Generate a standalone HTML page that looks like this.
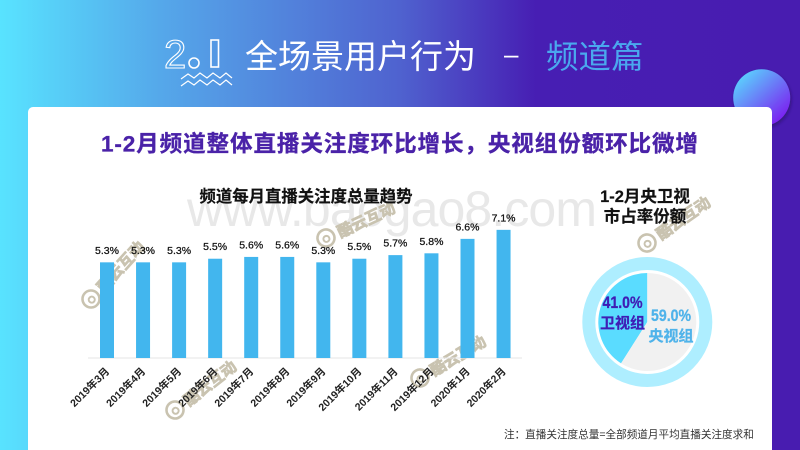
<!DOCTYPE html>
<html lang="zh">
<head>
<meta charset="utf-8">
<title>全场景用户行为 - 频道篇</title>
<style>
html,body{margin:0;padding:0;width:800px;height:450px;overflow:hidden}
svg{display:block}
text{font-family:"Liberation Sans","Noto Sans CJK SC",sans-serif}
</style>
</head>
<body>
<svg id="slide" xmlns="http://www.w3.org/2000/svg" width="800" height="450" viewBox="0 0 800 450">
<defs>
<linearGradient id="bg" x1="0" y1="0" x2="1" y2="0">
<stop offset="0" stop-color="#58e3ff"/>
<stop offset="0.2" stop-color="#55a8ea"/>
<stop offset="0.5" stop-color="#4f62cf"/>
<stop offset="0.67" stop-color="#471eb3"/>
<stop offset="1" stop-color="#481cb0"/>
</linearGradient>
<linearGradient id="ball" x1="0.15" y1="0.15" x2="0.85" y2="0.9">
<stop offset="0" stop-color="#5cc9fd"/>
<stop offset="1" stop-color="#7b1ff0"/>
</linearGradient>
<filter id="soft" x="-30%" y="-30%" width="160%" height="160%">
<feDropShadow dx="1" dy="2" stdDeviation="1.5" flood-color="#1a0a50" flood-opacity="0.55"/>
</filter>
</defs>

<rect width="800" height="450" fill="url(#bg)"/>
<circle cx="761.7" cy="97.7" r="28.5" fill="url(#ball)" filter="url(#soft)"/>

<g fill="none" stroke="#fff">
<text x="164" y="68" font-size="40" stroke-width="1.1" style="font-family:'Liberation Sans',sans-serif">2</text>
<circle cx="194" cy="63" r="5" stroke-width="1.6"/>
<rect x="211" y="40" width="7.5" height="27" stroke-width="1.6"/>
<polyline stroke-width="1.2" points="181,79 188,74 194,78 200,73 207,78 213,73 220,78 226,73 232,78"/>
<polyline stroke-width="1.2" points="181,86 188,81 194,85 200,80 207,85 213,80 220,85 226,80 232,85"/>
</g>

<text x="245" y="68" font-size="33" fill="#fff" style="font-family:'Noto Sans CJK SC',sans-serif;font-weight:400">全场景用户行为</text>
<text x="504" y="63" font-size="26" fill="#fff" style="font-family:'Liberation Sans',sans-serif">–</text>
<text x="546" y="68" font-size="32.5" fill="#4aa8ee" style="font-family:'Noto Sans CJK SC',sans-serif;font-weight:400">频道篇</text>

<rect x="28" y="107" width="744" height="350" rx="5" fill="#fff"/>

<text x="101" y="151.5" font-size="22.6" font-weight="700" fill="#4a22a8" stroke="#4a22a8" stroke-width="0.3" textLength="597" lengthAdjust="spacing">1-2月频道整体直播关注度环比增长，央视组份额环比微增</text>

<text x="187" y="226" font-size="50" fill="#e8e8e8" textLength="410" lengthAdjust="spacing">www.baogao8.com</text>

<g id="marks"></g>

<text x="306" y="202" font-size="16.4" font-weight="700" fill="#111" stroke="#111" stroke-width="0.2" text-anchor="middle">频道每月直播关注度总量趋势</text>
<g id="bar-chart"></g>

<text x="645" y="202" font-size="16.5" font-weight="700" fill="#111" stroke="#111" stroke-width="0.2" text-anchor="middle">1-2月央卫视</text>
<text x="645" y="222" font-size="16.5" font-weight="700" fill="#111" stroke="#111" stroke-width="0.2" text-anchor="middle">市占率份额</text>
<g id="share-chart"></g>

<text x="504" y="438" font-size="10.6" fill="#333">注：直播关注度总量=全部频道月平均直播关注度求和</text>
</svg>

<script>
const months = ["2019年3月","2019年4月","2019年5月","2019年6月","2019年7月","2019年8月","2019年9月","2019年10月","2019年11月","2019年12月","2020年1月","2020年2月"];
const monthlyShare = [5.3,5.3,5.3,5.5,5.6,5.6,5.3,5.5,5.7,5.8,6.6,7.1];
const shareLabels = ["卫视组","央视组"];
const shareValues = [41.0,59.0];

const NS = "http://www.w3.org/2000/svg";
function make(tag, attrs, parent, txt){
  const el = document.createElementNS(NS, tag);
  for (const k in attrs) el.setAttribute(k, attrs[k]);
  if (txt !== undefined) el.textContent = txt;
  parent.appendChild(el);
  return el;
}

/* bar chart axes */
const baseY = 358, unitPx = 18.05, firstX = 107, stepX = 36.05, barW = 14;
const xScale = i => firstX + i * stepX;
const yScale = v => baseY - v * unitPx;
const chart = document.getElementById("bar-chart");

const axis = make("line", {x1:88, x2:522, y1:baseY, y2:baseY, stroke:"#e6e6e6", "stroke-width":1}, chart);



monthlyShare.forEach((v, i) => {
  const cx = xScale(i), top = yScale(v);
  const bar = make("rect", {x:cx - barW/2, y:top, width:barW, height:baseY - top, fill:"#42b6ee"}, chart);
  
  
  const val = make("text", {x:cx, y:top - 8.5, "font-size":10.5, "text-anchor":"middle", fill:"#111", stroke:"#111", "stroke-width":0.25}, chart, v.toFixed(1) + "%");
  
  
  const ax = cx + 3, ay = 372;
  const tick = make("text", {x:ax, y:ay, "font-size":10.5, "font-weight":"700", "text-anchor":"end", fill:"#222", transform:"rotate(-45 " + ax + " " + ay + ")"}, chart, months[i]);
  
  
});

/* share pie */
const pieX = 647.3, pieY = 322, pieR = 49;
const share = document.getElementById("share-chart");
const ring = make("circle", {cx:pieX, cy:pieY, r:58.5, fill:"none", stroke:"#aeeeff", "stroke-width":13}, share);


const total = shareValues.reduce((a, b) => a + b, 0);
const pt = f => [pieX + pieR * Math.sin(2 * Math.PI * f), pieY - pieR * Math.cos(2 * Math.PI * f)];
const sliceColors = ["#5adcff", "#f1f1f1"];
let cursor = 0;
shareValues.forEach((v, i) => {
  const f = v / total;
  const a = pt(-cursor), b = pt(-(cursor + f));
  const big = f > 0.5 ? 1 : 0;
  const slice = make("path", {d:"M" + pieX + " " + pieY + "L" + a[0] + " " + a[1] + "A" + pieR + " " + pieR + " 0 " + big + " 0 " + b[0] + " " + b[1] + "Z", fill:sliceColors[i]}, share);
  
  
  cursor += f;
});
const labelSpec = [[622.5, 308, 328, "#3f1db5"], [671, 321, 341, "#4fb3ea"]];
shareValues.forEach((v, i) => {
  const s = labelSpec[i];
  const pct = make("text", {x:s[0], y:s[1], "font-size":17, "font-weight":"700", "text-anchor":"middle", fill:s[3], stroke:s[3], "stroke-width":0.3, textLength:40, lengthAdjust:"spacingAndGlyphs"}, share, v.toFixed(1) + "%");
  
  
  const nm = make("text", {x:s[0], y:s[2], "font-size":15, "font-weight":"700", "text-anchor":"middle", fill:s[3], stroke:s[3], "stroke-width":0.25}, share, shareLabels[i]);
  
  
});

/* brand stamps */
const stampX = [91,175,326,420,647];
const stampY = [299,410,238,378,243];
const stampTilt = [-48,-38,-25,-31,-35];
const marks = document.getElementById("marks");
stampX.forEach((x, i) => {
  const g = make("g", {transform:"translate(" + x + " " + stampY[i] + ") rotate(" + stampTilt[i] + ")"}, marks);
  
  
  make("circle", {cx:0, cy:0, r:8.5, fill:"none", stroke:"#c9c3b0", "stroke-width":2.6}, g);
  make("circle", {cx:0, cy:1, r:3, fill:"none", stroke:"#c9c3b0", "stroke-width":2}, g);
  make("text", {x:13, y:6, "font-size":15.5, "font-weight":"700", fill:"#c9c3b0", stroke:"#c9c3b0", "stroke-width":0.8}, g, "酷云互动");
});
</script>
</body>
</html>
